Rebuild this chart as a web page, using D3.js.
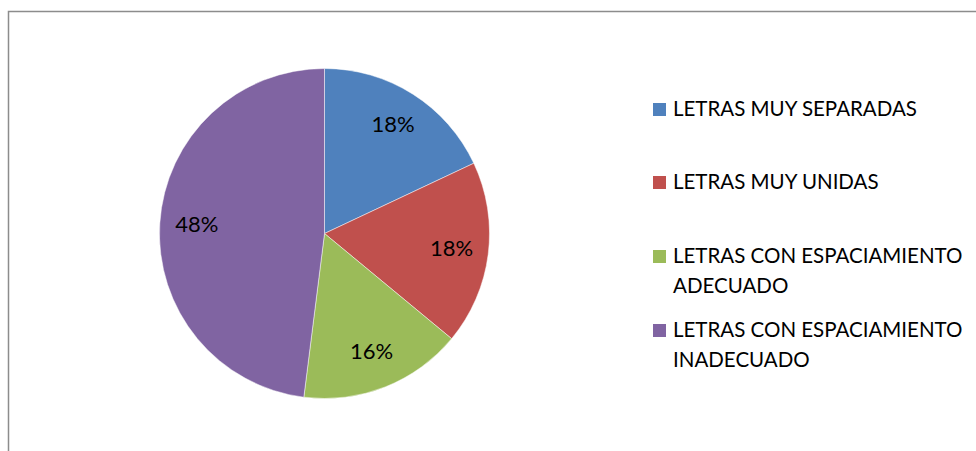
<!DOCTYPE html>
<html>
<head>
<meta charset="utf-8">
<script src="https://cdn.jsdelivr.net/npm/d3@7"></script>
<style>
  body { margin: 0; background: #fff; }
  svg { display: block; font-family: Lato, "Liberation Sans", sans-serif; }
</style>
</head>
<body>
<svg width="976" height="451"></svg>
<script>
// categories and their shares (percent)
const categories = [
  ["LETRAS MUY SEPARADAS"],
  ["LETRAS MUY UNIDAS"],
  ["LETRAS CON ESPACIAMIENTO", "ADECUADO"],
  ["LETRAS CON ESPACIAMIENTO", "INADECUADO"]
];
const values = [18, 18, 16, 48];
const labels = ["18%", "18%", "16%", "48%"];
const colors = ["#4F81BD", "#C0504D", "#9BBB59", "#8064A2"];

const data = values.map((v, i) => ({ value: v, label: labels[i], name: categories[i], color: colors[i] }));

const svg = d3.select("svg");

// chart frame (runs off the right and bottom edge of the picture)
svg.append("rect")
  .attr("x", 8.5)
  .attr("y", 11.5)
  .attr("width", 1000)
  .attr("height", 500)
  .attr("fill", "none")
  .attr("stroke", "#8c8c8c")
  .attr("stroke-width", 1.5);

const radius = 165;
const g = svg.append("g")
  .attr("transform", "translate(324.5,233.5)");

const pie = d3.pie()
  .value(d => d.value)
  .sort(null); // keep order, start at 12 o'clock

const arc = d3.arc().innerRadius(0).outerRadius(radius);
const labelArc = d3.arc().innerRadius(128).outerRadius(128);

g.selectAll(".slice")
  .data(pie(data))
  .join("path")
    .attr("class", "slice")
    .attr("d", arc)
    .attr("fill", d => d.data.color)
    .attr("stroke", "#ffffff")
    .attr("stroke-opacity", 0.6)
    .attr("stroke-width", 0.8);

g.selectAll(".pct")
  .data(pie(data))
  .join("text")
    .attr("class", "pct")
    .attr("transform", d => `translate(${labelArc.centroid(d)})`)
    .attr("text-anchor", "middle")
    .attr("dy", "0.3em")
    .attr("font-size", 22)
    .attr("fill", "#000")
    .text(d => d.data.label);

// legend
const legendY = [116, 189, 263, 337]; // baseline of first line of each item
const legend = svg.append("g");

const items = legend.selectAll(".legend-item")
  .data(data)
  .join("g")
    .attr("class", "legend-item")
    .attr("transform", (d, i) => `translate(653,${legendY[i]})`);

items.append("rect")
  .attr("x", 0)
  .attr("y", -13)
  .attr("width", 13)
  .attr("height", 13)
  .attr("fill", d => d.color);

items.append("text")
  .attr("font-size", 20.5)
  .attr("fill", "#000")
  .selectAll("tspan")
  .data(d => d.name)
  .join("tspan")
    .attr("x", 20)
    .attr("y", (d, i) => i * 30)
    .text(d => d);
</script>
</body>
</html>
